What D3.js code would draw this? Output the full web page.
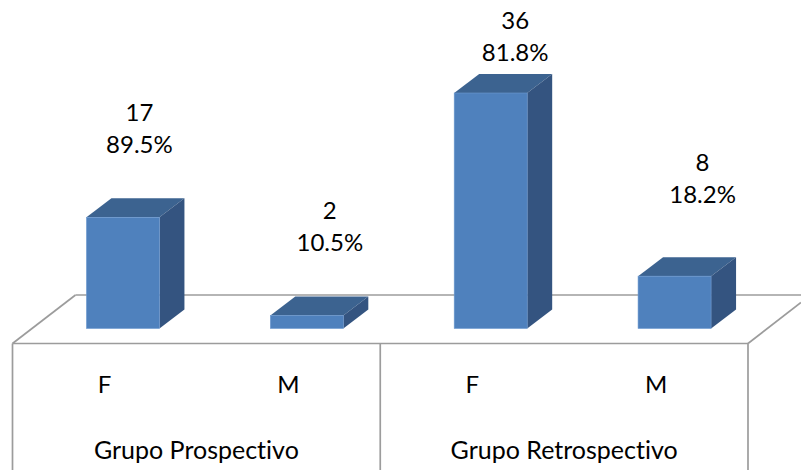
<!DOCTYPE html>
<html>
<head>
<meta charset="utf-8">
<script src="https://cdnjs.cloudflare.com/ajax/libs/d3/7.9.0/d3.min.js"></script>
<style>
  html, body { margin: 0; padding: 0; background: #fff; }
  svg { display: block; }
  text { font-family: Lato, "Open Sans", sans-serif; fill: #000; font-variant-ligatures: none; }
</style>
</head>
<body>
<svg id="chart" width="801" height="470"></svg>
<script>
// Sex distribution per study group
const categories = ["F", "M", "F", "M"];
const counts = [17, 2, 36, 8];
const percents = ["89.5%", "10.5%", "81.8%", "18.2%"];
const groups = ["Grupo Prospectivo", "Grupo Retrospectivo"];

// Value labels are hand placed relative to each bar
const labelDx = [16.5, 23, 24.5, 28];
const labelDy = [2, 2, 34, -7];

const W = 801, H = 470;
const floor = { left: 12.5, right: 748, front: 343.5, back: 295, baseline: 328.5 };
const depth = { dx: 25, dy: -19 };
const barWidth = 73;
const colors = { front: "#4F81BD", side: "#345480", top: "#3C6390", edge: "#6E9AD0", grid: "#9c9c9c" };

const svg = d3.select("#chart");

const x = d3.scaleBand().domain(d3.range(categories.length))
  .range([floor.left, floor.right]).paddingInner(0).paddingOuter(0);
const y = d3.scaleLinear().domain([0, 36]).range([floor.baseline, 93]);

// Floor of the 3D plot and the table of axis labels below it
const floorDx = 63;
const gridLines = [
  [floor.left, floor.front, floor.left + floorDx, floor.back],
  [floor.left + floorDx, floor.back, W, floor.back],
  [floor.left, floor.front, floor.right, floor.front],
  [floor.right, floor.front, W, floor.front - 41],
  [floor.left, floor.front, floor.left, H],
  [(floor.left + floor.right) / 2, floor.front, (floor.left + floor.right) / 2, H],
  [floor.right, floor.front, floor.right, H]
];
svg.append("g").selectAll("line").data(gridLines).join("line")
  .attr("x1", d => d[0]).attr("y1", d => d[1])
  .attr("x2", d => d[2]).attr("y2", d => d[3])
  .attr("stroke", colors.grid).attr("stroke-width", 1.7);

// Bars: top face, side face, then the front
const barX = i => x(i) + (x.bandwidth() - barWidth) / 2 + 18.5;
const bars = svg.append("g").selectAll("g").data(counts).join("g");

bars.append("path")
  .attr("fill", colors.top)
  .attr("d", (d, i) => {
    const l = barX(i), t = y(d);
    return d3.line()([[l, t], [l + depth.dx, t + depth.dy],
      [l + barWidth + depth.dx, t + depth.dy], [l + barWidth, t]]) + "Z";
  });

bars.append("path")
  .attr("fill", colors.side)
  .attr("d", (d, i) => {
    const r = barX(i) + barWidth, t = y(d), b = y(0);
    return d3.line()([[r, t], [r + depth.dx, t + depth.dy],
      [r + depth.dx, b + depth.dy], [r, b]]) + "Z";
  });

bars.append("rect")
  .attr("x", (d, i) => barX(i))
  .attr("y", d => y(d))
  .attr("width", barWidth)
  .attr("height", d => y(0) - y(d))
  .attr("fill", colors.front)
  .attr("stroke", colors.edge)
  .attr("stroke-width", 0.6);

// Value labels: count above percentage
const labels = svg.append("g").attr("font-size", 24).attr("text-anchor", "middle");
counts.forEach((d, i) => {
  const cx = barX(i) + barWidth / 2 + labelDx[i];
  const top = y(d) + labelDy[i];
  labels.append("text").attr("x", cx).attr("y", top - 98).text(d);
  labels.append("text").attr("x", cx).attr("y", top - 66).text(percents[i]);
});

// Category and group labels
svg.append("g").attr("font-size", 24).attr("text-anchor", "middle")
  .selectAll("text").data(categories).join("text")
  .attr("x", (d, i) => x(i) + x.bandwidth() / 2)
  .attr("y", 393)
  .text(d => d);

svg.append("g").attr("font-size", 25).attr("text-anchor", "middle")
  .selectAll("text").data(groups).join("text")
  .attr("x", (d, i) => x(i * 2 + 1))
  .attr("y", 459)
  .text(d => d);
</script>
</body>
</html>
